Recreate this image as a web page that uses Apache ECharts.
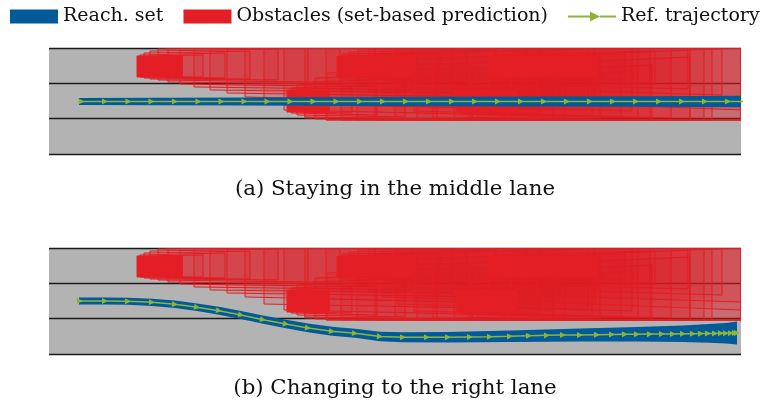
<!DOCTYPE html>
<html><head><meta charset="utf-8">
<script src="https://cdn.jsdelivr.net/npm/echarts@6/dist/echarts.min.js"></script>
<style>html,body{margin:0;padding:0;background:#fff}#c{width:768px;height:407px}</style>
</head><body><div id="c"></div>
<script>
// ---- road ----
const roadLength = 138.4;          // m
const laneLines = [0, 3.5, 7, 10.5];

// ---- obstacles: rear / front positions, lateral lower / upper bounds per time step ----
const obsA_rear  = [17.6, 18.2, 19.0, 20.2, 21.8, 23.8, 26.2, 29.0, 32.2, 35.6, 39.2, 43.0, 47.0, 51.2, 55.4, 58.2];
const obsA_front = [26.8, 30.8, 35.2, 40.2, 45.8, 51.8, 58.2, 65.2, 72.6, 80.6, 89.2, 98.2, 107.8, 117.8, 128.2, 138.4];
const obsA_lo    = [7.63, 7.63, 7.53, 7.43, 7.33, 7.13, 6.93, 6.64, 6.34, 6.04, 5.65, 4.95, 4.36, 3.57, 3.37, 3.37];
const obsA_hi    = [9.71, 9.81, 10.0, 10.2, 10.4, 10.5, 10.5, 10.5, 10.5, 10.5, 10.5, 10.5, 10.5, 10.5, 10.5, 10.5];

const obsB_rear  = [47.6, 48.4, 49.6, 51.2, 53.2, 55.6, 58.4, 61.6, 65.2, 69.2, 73.6, 78.4];
const obsB_front = [56.2, 60.6, 65.6, 71.2, 77.6, 84.6, 92.4, 100.8, 110.2, 120.2, 131.0, 138.4];
const obsB_lo    = [4.16, 4.06, 3.86, 3.67, 3.47, 3.37, 3.37, 3.37, 3.37, 3.37, 3.37, 3.37];
const obsB_hi    = [6.34, 6.54, 6.84, 7.13, 7.53, 8.02, 8.62, 9.31, 9.91, 10.5, 10.5, 10.5];

const obsC_rear  = [57.6, 58.6, 60.0, 61.8, 64.0, 66.6, 69.6, 73.0, 76.8, 81.0, 85.6];
const obsC_front = [73.2, 78.2, 83.6, 89.4, 95.6, 102.2, 109.2, 116.6, 124.4, 132.6, 138.4];
const obsC_lo    = [7.63, 7.43, 7.13, 6.74, 6.24, 5.65, 4.95, 4.26, 3.57, 3.37, 3.37];
const obsC_hi    = [9.71, 9.91, 10.1, 10.3, 10.5, 10.5, 10.5, 10.5, 10.5, 10.5, 10.5];

const obsD_rear  = [81.6, 82.6, 84.0, 85.8, 88.0, 90.6, 93.6, 97.0];
const obsD_front = [93.6, 98.2, 103.2, 108.6, 114.4, 120.6, 128.2, 138.4];
const obsD_lo    = [4.16, 3.96, 3.67, 3.37, 3.37, 3.37, 3.37, 3.37];
const obsD_hi    = [6.34, 6.64, 7.03, 7.53, 8.12, 8.82, 9.61, 10.5];

const obsE_rear  = [87.6, 88.8, 90.4, 92.4, 94.8, 97.6, 100.8];
const obsE_front = [109.6, 115.2, 121.2, 127.8, 134.6, 138.4, 138.4];
const obsE_lo    = [7.63, 7.33, 6.93, 6.44, 5.84, 5.15, 4.36];
const obsE_hi    = [9.71, 9.91, 10.2, 10.5, 10.5, 10.5, 10.5];

// ---- (a) staying in the middle lane ----
const trajA_x = [6.5, 11.2, 15.9, 20.5, 25.2, 29.9, 34.5, 39.1, 43.7, 48.3, 52.9, 57.5, 62.2, 66.8, 71.4, 76.0, 80.6, 85.2, 89.8, 94.4, 99.0, 103.6, 108.2, 112.8, 117.4, 122.0, 126.6, 131.2, 135.8, 140.4];
const trajA_y = [5.2, 5.2, 5.2, 5.2, 5.2, 5.2, 5.2, 5.2, 5.2, 5.2, 5.2, 5.2, 5.2, 5.2, 5.2, 5.2, 5.2, 5.2, 5.2, 5.2, 5.2, 5.2, 5.2, 5.2, 5.2, 5.2, 5.2, 5.2, 5.2, 5.2];
const reachA_x  = [6.0, 40.0, 80.0, 120.0, 138.4];
const reachA_up = [5.55, 5.60, 5.66, 5.73, 5.77];
const reachA_lo = [4.85, 4.80, 4.74, 4.67, 4.63];

// ---- (b) changing to the right lane ----
const trajB_x = [6.2, 11.2, 15.8, 20.6, 25.2, 29.6, 34.0, 38.4, 42.8, 47.4, 51.8, 56.6, 61.2, 66.2, 70.8, 75.6, 79.8, 84.2, 88.2, 92.2, 96.0, 99.6, 102.8, 106.2, 109.6, 112.6, 115.2, 117.6, 120.2, 122.6, 124.8, 126.8, 128.8, 130.4, 131.8, 133.2, 134.4, 135.4, 136.4, 137.2, 137.6];
const trajB_y = [5.25, 5.25, 5.22, 5.12, 4.92, 4.63, 4.29, 3.86, 3.40, 2.97, 2.58, 2.25, 2.05, 1.73, 1.66, 1.65, 1.65, 1.68, 1.71, 1.75, 1.81, 1.85, 1.88, 1.88, 1.91, 1.93, 1.95, 1.96, 1.97, 1.98, 1.99, 2.00, 2.01, 2.02, 2.03, 2.04, 2.05, 2.06, 2.07, 2.08, 2.08];
const reachB_x  = [6.0, 11.2, 15.8, 20.6, 25.2, 29.6, 34.0, 38.4, 42.8, 47.4, 51.8, 56.6, 61.2, 66.2, 70.8, 79.8, 92.2, 106.2, 117.6, 126.8, 132.0, 135.4, 137.6];
const reachB_up = [5.60, 5.60, 5.57, 5.48, 5.29, 5.01, 4.68, 4.26, 3.81, 3.39, 3.01, 2.69, 2.50, 2.20, 2.15, 2.17, 2.32, 2.52, 2.68, 2.83, 2.96, 3.08, 3.23];
const reachB_lo = [4.90, 4.90, 4.87, 4.76, 4.55, 4.25, 3.90, 3.46, 2.99, 2.55, 2.15, 1.81, 1.60, 1.26, 1.17, 1.13, 1.18, 1.24, 1.24, 1.19, 1.12, 1.04, 0.93];

const legendNames = ['Reach. set', 'Obstacles (set-based prediction)', 'Ref. trajectory'];
const captions = ['(a) Staying in the middle lane', '(b) Changing to the right lane'];

const RED = '#e31e24', BLUE = '#035a98', GREEN = '#8db43a', ROAD = '#b3b3b3';

// build obstacle polygons: time-interval occupancy from rear(k) to front(k+1)
function obstacleItems(rear, front, lo, hi) {
  const items = [];
  for (let k = 0; k < rear.length - 1; k++) {
    items.push([rear[k], front[k + 1], lo[k], hi[k], lo[k + 1], hi[k + 1], 0]);
  }
  return items;
}
function initialItem(rear, front, lo, hi) {
  return [rear[0], front[0], lo[0], hi[0], lo[0], hi[0], 1];
}
const obsList = [
  [obsA_rear, obsA_front, obsA_lo, obsA_hi],
  [obsB_rear, obsB_front, obsB_lo, obsB_hi],
  [obsC_rear, obsC_front, obsC_lo, obsC_hi],
  [obsD_rear, obsD_front, obsD_lo, obsD_hi],
  [obsE_rear, obsE_front, obsE_lo, obsE_hi]
];
let obsData = [];
obsList.forEach(o => { obsData = obsData.concat(obstacleItems(...o)); });
obsList.forEach(o => { obsData.push(initialItem(...o)); });

function renderObs(params, api) {
  const x0 = api.value(0), x1 = api.value(1);
  const pts = [api.coord([x0, api.value(2)]), api.coord([x1, api.value(4)]),
               api.coord([x1, api.value(5)]), api.coord([x0, api.value(3)])];
  const solid = api.value(6) === 1;
  return {
    type: 'polygon', shape: { points: pts },
    style: { fill: solid ? RED : 'rgba(227,30,36,0.14)', stroke: solid ? null : RED, lineWidth: 1 }
  };
}
function bandRenderer(xs, up, lo) {
  return function (params, api) {
    const pts = [];
    for (let i = 0; i < xs.length; i++) pts.push(api.coord([xs[i], up[i]]));
    for (let i = xs.length - 1; i >= 0; i--) pts.push(api.coord([xs[i], lo[i]]));
    return { type: 'polygon', shape: { points: pts, smooth: 0 }, style: { fill: BLUE } };
  };
}

const gridTops = [48, 248];
const grids = gridTops.map(t => ({ left: 49, top: t, width: 692, height: 106, show: true, backgroundColor: ROAD, borderWidth: 0 }));
const xAxes = gridTops.map((t, i) => ({ type: 'value', gridIndex: i, min: 0, max: roadLength, show: false }));
const yAxes = gridTops.map((t, i) => ({
  type: 'value', gridIndex: i, min: laneLines[0], max: laneLines[laneLines.length - 1], interval: laneLines[1] - laneLines[0],
  axisLine: { show: false }, axisTick: { show: false }, axisLabel: { show: false },
  splitLine: { show: true, lineStyle: { color: '#1a1a1a', width: 1.4 } }
}));

const series = [];
[0, 1].forEach(i => {
  series.push({
    type: 'custom', name: legendNames[1], xAxisIndex: i, yAxisIndex: i, clip: true,
    itemStyle: { color: RED }, renderItem: renderObs, data: obsData, z: 2, silent: true
  });
  series.push({
    type: 'custom', name: legendNames[0], xAxisIndex: i, yAxisIndex: i, clip: true,
    itemStyle: { color: BLUE },
    renderItem: i === 0 ? bandRenderer(reachA_x, reachA_up, reachA_lo) : bandRenderer(reachB_x, reachB_up, reachB_lo),
    data: [0], z: 3, silent: true
  });
});
const trajX = [trajA_x, trajB_x], trajY = [trajA_y, trajB_y];
[0, 1].forEach(i => {
  series.push({
    id: 'traj' + i, type: 'line', name: legendNames[2], xAxisIndex: i, yAxisIndex: i, clip: true,
    data: trajX[i].map((x, j) => [x, trajY[i][j]]),
    symbol: 'triangle', symbolSize: [6, 6], symbolRotate: -90, showAllSymbol: true,
    itemStyle: { color: GREEN }, lineStyle: { color: GREEN, width: 1.5 },
    z: 4, silent: true, animation: false
  });
});

const option = {
  animation: false,
  grid: grids, xAxis: xAxes, yAxis: yAxes,
  legend: {
    left: 10, top: 7, width: 760, itemWidth: 48, itemHeight: 14, itemGap: 20, padding: 0,
    textStyle: { fontFamily: 'DejaVu Serif', fontSize: 19, color: '#111' },
    data: [
      { name: legendNames[0], icon: 'rect' },
      { name: legendNames[1], icon: 'rect' },
      { name: legendNames[2], icon: 'path://M0,6L22,6L22,2L32,7L22,12L22,8L0,8ZM32,6L48,6L48,8L32,8Z' }
    ],
    selectedMode: false
  },
  title: captions.map((c, i) => ({
    text: c, left: 395, textAlign: 'center', top: [179, 378][i], padding: 0,
    textStyle: { fontFamily: 'DejaVu Serif', fontSize: 21.3, fontWeight: 'normal', color: '#111' }
  })),
  series: series
};

const chart = echarts.init(document.getElementById('c'), null, { renderer: 'canvas' });
chart.setOption(option);

// orient arrows along the path
function arrowData(i) {
  const xs = trajX[i], ys = trajY[i];
  const px = xs.map((x, j) => chart.convertToPixel({ gridIndex: i }, [x, ys[j]]));
  return xs.map((x, j) => {
    const a = px[Math.max(0, j - 1)], b = px[Math.min(px.length - 1, j + 1)];
    const ang = Math.atan2(b[1] - a[1], b[0] - a[0]) * 180 / Math.PI;
    return { value: [x, ys[j]], symbolRotate: -90 - ang };
  });
}
chart.setOption({ series: [{ id: 'traj0', data: arrowData(0) }, { id: 'traj1', data: arrowData(1) }] });
</script></body></html>
